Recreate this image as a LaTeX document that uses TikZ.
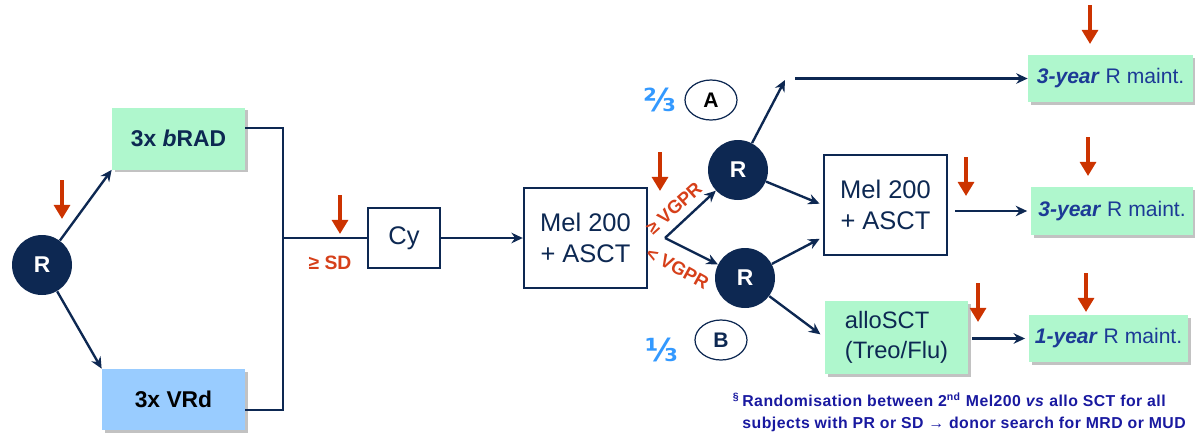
\documentclass[tikz,border=0pt]{standalone}
\usepackage{fontspec}
\setmainfont{Liberation Sans}
\newfontfamily\symfont{DejaVu Sans}
\usetikzlibrary{arrows.meta,shapes.geometric,shadows}
\definecolor{navy}{RGB}{13,40,82}
\definecolor{doseRed}{RGB}{204,51,0}
\definecolor{labRed}{RGB}{214,64,26}
\definecolor{mint}{RGB}{175,247,205}
\definecolor{skyfill}{RGB}{153,204,255}
\definecolor{fracBlue}{RGB}{51,153,255}
\definecolor{maintBlue}{RGB}{28,58,150}
\definecolor{fnBlue}{RGB}{25,25,160}
\begin{document}
\begin{tikzpicture}[
  link/.style={draw=navy,line width=1.35pt,-{Stealth[length=6.5pt,width=6pt]}},
  wire/.style={draw=navy,line width=1.35pt},
  dose/.style={draw=doseRed,line width=2.6pt,-{Triangle[length=8pt,width=9pt]}},
  rand/.style={circle,fill=navy,text=white,minimum size=1.2cm,inner sep=0pt,
    font=\fontsize{13}{15}\selectfont\bfseries},
  shade/.style={drop shadow={shadow xshift=1.5pt,shadow yshift=-1.5pt,fill=black!40,opacity=.6}},
  armbox/.style={shade,rectangle,minimum height=1.24cm,font=\fontsize{13}{15}\selectfont\bfseries},
  stepbox/.style={rectangle,draw=navy,line width=1.35pt,fill=white,text=navy,align=center,
    font=\fontsize{14.5}{18}\selectfont},
  maint/.style={shade,rectangle,fill=mint,minimum height=0.94cm,text=maintBlue,
    font=\fontsize{12}{14}\selectfont},
  arm/.style={ellipse,draw=navy,line width=0.7pt,minimum width=1.04cm,minimum height=0.8cm,
    inner sep=0pt,font=\fontsize{12}{14}\selectfont\bfseries},
  frac/.style={text=fracBlue,font=\fontsize{18}{20}\symfont\bfseries},
  resp/.style={text=labRed,font=\fontsize{10.5}{12}\selectfont\bfseries},
  note/.style={align=left,inner sep=0pt,text=fnBlue,
    font=\fontsize{9}{12.5}\selectfont\bfseries\addfontfeatures{LetterSpace=3}}
]
\useasboundingbox (0,0) rectangle (23.9,-8.68);

\node[rand] (r1) at (0.84,-5.30) {R};
\node[armbox,fill=mint,minimum width=2.66cm,text=navy] (brad) at (3.57,-2.77) {3x \textit{b}RAD};
\node[armbox,fill=skyfill,minimum width=2.86cm,minimum height=1.22cm] (vrd) at (3.47,-7.99) {3x VRd};
\draw[link] (r1) -- (brad.south west);
\draw[link] (r1) -- (vrd.north west);

\coordinate (bus) at (5.66,-4.76);
\draw[wire] ([yshift=6pt]brad.east) -| (bus);
\draw[wire] ([yshift=-6pt]vrd.east) -| (bus);
\node[stepbox,minimum width=1.44cm,minimum height=1.2cm] (cy) at (8.08,-4.76) {Cy};
\draw[wire] (bus) -- (cy.west);
\node[resp,font=\fontsize{11}{13}\selectfont\bfseries] (sd) at (6.6,-5.26) {≥ SD};

\node[stepbox,minimum width=2.46cm,minimum height=2cm] (mel1) at (11.71,-4.76) {Mel 200\\+ ASCT};
\draw[link] (cy) -- (mel1);

\coordinate (split) at (13.3,-4.76);
\node[rand] (r2) at (14.76,-3.40) {R};
\node[rand] (r3) at (14.90,-5.56) {R};
\draw[link] (split) -- (r2);
\draw[link] (split) -- (r3);
\node[resp,rotate=42] (good) at (13.48,-4.16) {≥ VGPR};
\node[resp,rotate=-29] (poor) at (13.55,-5.36) {< VGPR};

\node[frac] (twothirds) at (13.2,-2.0) {⅔};
\node[arm] (armA) at (14.22,-2.0) {A};
\node[frac] (onethird) at (13.24,-7.0) {⅓};
\node[arm,text=navy] (armB) at (14.42,-6.80) {B};

\node[maint,minimum width=3.3cm] (maint1) at (22.21,-1.57) {\textbf{\textit{3-year}} R maint.};
\node[maint,minimum width=3.24cm,minimum height=0.96cm] (maint2) at (22.24,-4.22) {\textbf{\textit{3-year}} R maint.};
\node[maint,minimum width=3.02cm] (maint3) at (22.17,-6.77) {\textbf{\textit{1-year}} R maint.};

\coordinate (bend) at (15.7,-1.6);
\coordinate (gapA) at (15.9,-1.57);
\draw[link] (r2) -- (bend);
\draw[link] (gapA) -- (maint1.west);

\node[stepbox,minimum width=2.46cm,minimum height=2cm] (mel2) at (17.71,-4.10) {Mel 200\\+ ASCT};
\node[armbox,fill=mint,minimum width=2.86cm,minimum height=1.46cm,align=left,text=navy,
  font=\fontsize{13.5}{17}\selectfont] (allo) at (17.93,-6.75) {alloSCT\\(Treo/Flu)};
\draw[link,shorten >=2pt] (r2) -- (mel2.west);
\draw[link,shorten >=2pt] (r3) -- ([yshift=0.38cm]mel2.south west);
\draw[link,shorten >=3pt] (r3) -- (allo.west);
\draw[link,shorten <=4pt,shorten >=2pt] (mel2.east |- maint2.west) -- (maint2.west);
\draw[link,shorten <=2pt,shorten >=2pt] (allo.east |- maint3.west) -- (maint3.west);

\foreach \x/\y in {1.24/-3.6,6.8/-3.9,13.2/-3.04,19.32/-3.14,19.56/-5.66,21.8/-0.1,21.76/-2.74,21.72/-5.46}
  \draw[dose] (\x,\y) -- ++(0,-0.78);

\node[note,anchor=north west] (fn) at (14.84,-7.84)
  {\llap{\textsuperscript{§}\,}Randomisation between 2\textsuperscript{nd} Mel200 \textit{vs} allo SCT for all\\
   subjects with PR or SD → donor search for MRD or MUD};
\end{tikzpicture}
\end{document}
